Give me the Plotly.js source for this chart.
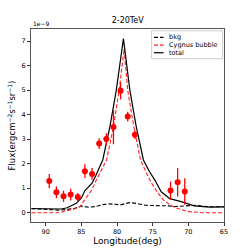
<!DOCTYPE html>
<html><head><meta charset="utf-8">
<script src="https://cdn.plot.ly/plotly-3.0.1.min.js"></script>
<style>html,body{margin:0;padding:0;background:#fff}#c{width:249px;height:249px}</style>
</head><body><div id="c"></div>
<script>
const ptLon = [89.5, 88.5, 87.5, 86.5, 85.5, 84.5, 83.5, 82.5, 81.5, 80.5, 79.5, 78.5, 77.5, 72.5, 71.5, 70.5];
const ptFlux = [1.29, 0.83, 0.67, 0.74, 0.64, 1.69, 1.58, 2.82, 3.0, 3.49, 4.97, 3.92, 3.18, 0.9, 1.24, 0.86];
const ptErr = [0.29, 0.24, 0.23, 0.24, 0.16, 0.28, 0.24, 0.22, 0.24, 0.7, 0.35, 0.2, 0.18, 0.37, 0.58, 0.54];

const bkgLon = [92, 90, 89, 88, 87, 86, 85, 84.5, 84, 83, 82, 81, 80, 79.5, 79, 78.2, 77.3, 76, 75, 74, 73, 72, 71, 70, 69, 68, 67, 65];
const bkgFlux = [0.16, 0.15, 0.12, 0.1, 0.12, 0.17, 0.27, 0.25, 0.22, 0.25, 0.33, 0.36, 0.34, 0.32, 0.36, 0.41, 0.38, 0.3, 0.29, 0.29, 0.28, 0.25, 0.27, 0.3, 0.3, 0.27, 0.24, 0.24];

const bubLon = [92, 88, 87.5, 86.5, 86, 85.2, 84.3, 83.5, 82.9, 82.2, 81.46, 80.5, 79.7, 79.0, 78.5, 77.7, 77.3, 76.7, 76, 75.4, 74.5, 73.5, 72.5, 71.6, 70.5, 69.8, 68, 65];
const bubFlux = [0.0, 0.0, 0.05, 0.1, 0.15, 0.25, 0.6, 0.95, 1.33, 1.7, 2.15, 3.5, 5.0, 6.68, 5.0, 3.58, 3.0, 2.15, 1.7, 1.33, 0.9, 0.52, 0.3, 0.18, 0.08, 0.04, 0.0, 0.0];

const totLon = [92, 90, 88.5, 87.8, 87, 86.3, 85.7, 85, 84.5, 84, 83.5, 83, 82, 81, 80.1, 79.1, 78.2, 77.3, 76.3, 75.5, 74.7, 73.8, 72.6, 71, 69.9, 69.2, 67, 65];
const totFlux = [0.17, 0.17, 0.14, 0.15, 0.2, 0.3, 0.38, 0.6, 0.9, 1.05, 1.2, 1.5, 2.15, 3.5, 5.0, 7.1, 5.0, 3.5, 2.15, 1.7, 1.33, 0.85, 0.57, 0.45, 0.35, 0.28, 0.23, 0.24];

const yTicks = [0, 1, 2, 3, 4, 5, 6, 7];
const xTicks = [90, 85, 80, 75, 70, 65];
const legendNames = ['bkg', 'Cygnus bubble', 'total'];
const legendColors = ['#000', '#ff2020', '#000'];
const legendDash = ['4px,2px', '4px,2px', 'solid'];

const traces = [
  {x: bkgLon, y: bkgFlux, mode: 'lines', name: legendNames[0], line: {color: legendColors[0], width: 1.1, dash: legendDash[0]}},
  {x: bubLon, y: bubFlux, mode: 'lines', name: legendNames[1], line: {color: legendColors[1], width: 1.1, dash: legendDash[1]}},
  {x: totLon, y: totFlux, mode: 'lines', name: legendNames[2], line: {color: legendColors[2], width: 1.2}},
  {x: ptLon, y: ptFlux, mode: 'markers',
   marker: {color: '#ff0000', size: 6},
   error_y: {type: 'data', array: ptErr, visible: true, color: '#ff0000', thickness: 1.3, width: 0}}
];

// hand-built compact legend (matplotlib style)
const rowY = [0.957, 0.916, 0.877];
const shapes = [{type: 'rect', xref: 'paper', yref: 'paper', x0: 0.625, x1: 0.993, y0: 0.846, y1: 0.991,
                 line: {color: '#cccccc', width: 1}, fillcolor: 'rgba(255,255,255,0.85)', layer: 'above'}];
const annotations = [{text: '1e−9', xref: 'paper', yref: 'paper', x: 0, y: 1, xanchor: 'left', yanchor: 'bottom',
                      showarrow: false, font: {size: 6, color: '#000'}}];
legendNames.forEach((n, i) => {
  shapes.push({type: 'line', xref: 'paper', yref: 'paper', x0: 0.637, x1: 0.687, y0: rowY[i], y1: rowY[i],
               line: {color: legendColors[i], width: 1.2, dash: legendDash[i]}, layer: 'above'});
  annotations.push({text: n, xref: 'paper', yref: 'paper', x: 0.703, y: rowY[i], xanchor: 'left', yanchor: 'middle',
                    showarrow: false, font: {size: 6.5, color: '#000'}});
});

const layout = {
  width: 249, height: 249,
  margin: {l: 31, r: 25, t: 29, b: 27},
  paper_bgcolor: '#fff', plot_bgcolor: '#fff',
  font: {family: 'DejaVu Sans', color: '#000', size: 7},
  title: {text: '2-20TeV', x: 0.513, xanchor: 'center', y: 0.92, yanchor: 'middle', font: {size: 8, color: '#000'}},
  showlegend: false,
  xaxis: {range: [92.06, 65], tickvals: xTicks, ticktext: xTicks.map(String), showgrid: false, zeroline: false,
          showline: true, linecolor: '#555', linewidth: 1, mirror: true, ticks: 'outside', ticklen: 3, tickcolor: '#333',
          tickfont: {size: 6.5, color: '#000'},
          title: {text: 'Longitude(deg)', font: {size: 9, color: '#000'}, standoff: 2}},
  yaxis: {range: [-0.38, 7.49], tickvals: yTicks, ticktext: yTicks.map(String), showgrid: false, zeroline: false,
          showline: true, linecolor: '#555', linewidth: 1, mirror: true, ticks: 'outside', ticklen: 3, tickcolor: '#333',
          tickfont: {size: 6.5, color: '#000'},
          title: {text: 'Flux(ergcm<sup>−2</sup>s<sup>−1</sup>sr<sup>−1</sup>)', font: {size: 8.5, color: '#000'}, standoff: 4}},
  shapes: shapes,
  annotations: annotations
};

Plotly.newPlot('c', traces, layout, {staticPlot: true, displayModeBar: false});
</script></body></html>
